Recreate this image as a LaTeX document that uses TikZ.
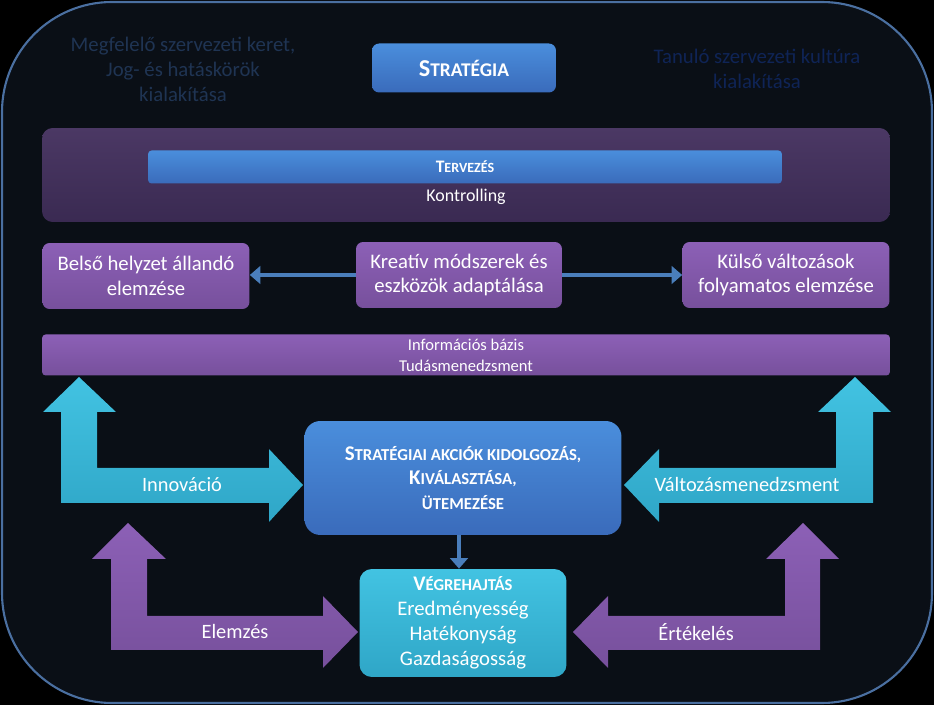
\documentclass[tikz,border=0pt]{standalone}
\usepackage{fontspec}
\setmainfont{Carlito}
\usetikzlibrary{arrows.meta, backgrounds}

\definecolor{frameblue}{HTML}{4A6FA0}
\definecolor{panel}{HTML}{0A0F16}
\definecolor{darkpurple}{HTML}{4B3864}
\definecolor{darkpurplelow}{HTML}{3A2A52}
\definecolor{lilac}{HTML}{8C60B6}
\definecolor{lilacdark}{HTML}{77509C}
\definecolor{boxblue}{HTML}{4A8EDC}
\definecolor{boxbluedark}{HTML}{3A6BBB}
\definecolor{cyanbox}{HTML}{42C3E2}
\definecolor{cyandark}{HTML}{2FA6C7}
\definecolor{linkblue}{HTML}{4A7EBB}
\definecolor{faintblue}{HTML}{1F3453}
\definecolor{deepblue}{HTML}{0F2456}

\newcommand{\fakesc}[2]{#1\scalebox{0.8}{#2}}

\tikzset{
  panelbox/.style={rounded corners=4pt, inner sep=0pt, align=center, text=white},
  bluebox/.style={panelbox, top color=boxblue, bottom color=boxbluedark},
  lilacbox/.style={panelbox, top color=lilac, bottom color=lilacdark},
  cyanbox/.style={panelbox, top color=cyanbox, bottom color=cyandark},
  conn/.style={draw=linkblue, line width=2.2pt},
  tip/.style={-{Triangle[length=6pt, width=10pt]}},
  cyanarrow/.style={top color=cyanbox, bottom color=cyandark},
  lilacarrow/.style={top color=lilac, bottom color=lilacdark},
  label/.style={text=white, font=\fontsize{11.6}{13}\selectfont}
}

\begin{document}
\begin{tikzpicture}[x=0.02cm, y=-0.02cm, font=\fontsize{11.8}{14.2}\selectfont]
  \fill[black] (0,0) rectangle (934,705);
  \useasboundingbox (0,0) rectangle (934,705);
  \draw[draw=frameblue, fill=panel, line width=1.2pt, rounded corners=2.2cm] (2,2) rectangle (932,703);

  % upper corner texts
  \node[text=faintblue, align=center] (frame) at (183,69) {Megfelelő szervezeti keret,\\Jog- és hatáskörök\\kialakítása};
  \node[text=deepblue, align=center] (culture) at (757,69) {Tanuló szervezeti kultúra\\kialakítása};

  \node[bluebox, minimum width=3.68cm, minimum height=0.98cm, font=\fontsize{13.8}{15}\selectfont\bfseries] (strategy) at (464,68) {\fakesc{S}{TRATÉGIA}};

  % planning band
  \node[panelbox, rounded corners=6pt, top color=darkpurple, bottom color=darkpurplelow, minimum width=16.96cm, minimum height=1.88cm] (plan) at (466,175) {};
  \node[bluebox, rounded corners=2pt, minimum width=12.68cm, minimum height=0.66cm, font=\fontsize{10}{11}\selectfont\bfseries] (terv) at (465,167) {\fakesc{T}{ERVEZÉS}};
  \node[text=white, font=\fontsize{10.2}{11}\selectfont] (kontroll) at (466,197) {Kontrolling};

  \node[lilacbox, minimum width=4.14cm, minimum height=1.32cm] (belso) at (146,276) {Belső helyzet állandó\\elemzése};
  \node[lilacbox, minimum width=4.12cm, minimum height=1.32cm] (kreat) at (459,275) {Kreatív módszerek és\\eszközök adaptálása};
  \node[lilacbox, minimum width=4.14cm, minimum height=1.32cm] (kulso) at (786,275) {Külső változások\\folyamatos elemzése};

  \node[lilacbox, rounded corners=2pt, minimum width=16.96cm, minimum height=0.82cm, font=\fontsize{9.4}{12}\selectfont] (info) at (466,355) {Információs bázis\\Tudásmenedzsment};

  \node[bluebox, rounded corners=9pt, minimum width=6.34cm, minimum height=2.28cm, font=\fontsize{11.9}{14.2}\selectfont\bfseries] (akcio) at (463,478) {\fakesc{S}{TRATÉGIAI AKCIÓK KIDOLGOZÁS,}\\\fakesc{K}{IVÁLASZTÁSA,}\\\scalebox{0.8}{ÜTEMEZÉSE}};

  \node[cyanbox, rounded corners=7pt, minimum width=4.14cm, minimum height=2.16cm] (vegre) at (463,623) {\textbf{\fakesc{V}{ÉGREHAJTÁS}}\\Eredményesség\\Hatékonyság\\Gazdaságosság};

  % spine behind the boxes
  \begin{scope}[on background layer]
    \draw[conn] (plan.south -| kreat) -- (akcio.north -| kreat);
  \end{scope}
  \draw[conn, tip] (kreat.west) -- (kreat.west -| belso.east);
  \draw[conn, tip] (kreat.east) -- (kreat.east -| kulso.west);
  \draw[conn, tip] (akcio.south -| kreat) -- (vegre.north -| kreat);

  % bent arrows
  \fill[cyanarrow] (79,377) -- (116,412) -- (97,412) -- (97,468) -- (269,468) -- (269,449) -- (303,485) -- (269,522) -- (269,503) -- (61,503) -- (61,412) -- (43,412) -- cycle;
  \fill[lilacarrow] (128,523) -- (166,559) -- (147,559) -- (147,616) -- (323,616) -- (323,596) -- (358,632) -- (323,668) -- (323,650) -- (111,650) -- (111,559) -- (92,559) -- cycle;
  \fill[cyanarrow] (855,377) -- (891,412) -- (873,412) -- (873,503) -- (659,503) -- (659,522) -- (624,485) -- (659,449) -- (659,468) -- (836,468) -- (836,412) -- (818,412) -- cycle;
  \fill[lilacarrow] (803,523) -- (839,559) -- (820,559) -- (820,650) -- (608,650) -- (608,668) -- (573,632) -- (608,596) -- (608,616) -- (785,616) -- (785,559) -- (766,559) -- cycle;

  \node[label] (innov) at (182,485) {Innováció};
  \node[label] (elemz) at (235,632) {Elemzés};
  \node[label] (valtoz) at (747,485) {Változásmenedzsment};
  \node[label] (ertek) at (696,632) {Értékelés};
\end{tikzpicture}
\end{document}
